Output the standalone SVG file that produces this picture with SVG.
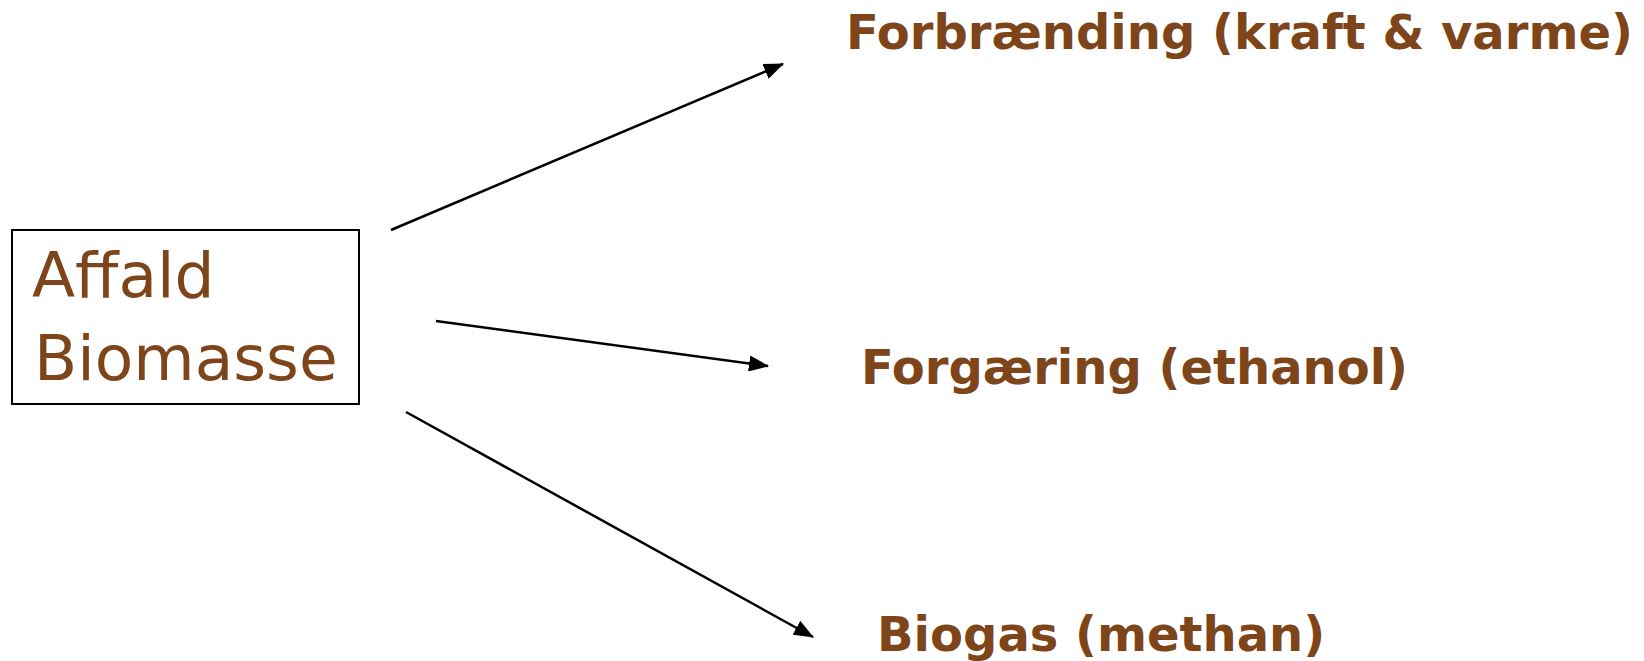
<svg xmlns="http://www.w3.org/2000/svg" width="1644" height="661" viewBox="0 0 1644 661">
<style>
.lbl{font-family:"DejaVu Sans",Verdana,sans-serif;font-weight:bold;font-size:48px;fill:#7D4519}
.src{font-family:"DejaVu Sans",Verdana,sans-serif;font-size:63px;fill:#7D4519}
.con{stroke:#000;stroke-width:2.5;fill:none;marker-end:url(#ah)}
</style>
<defs>
<marker id="ah" markerUnits="userSpaceOnUse" markerWidth="20" markerHeight="16" refX="19" refY="8" orient="auto">
<path d="M0,0 L20,8 L0,16 Z" fill="#000"/>
</marker>
</defs>
<rect width="1644" height="661" fill="#fff"/>
<g id="source">
<rect x="12" y="230" width="347" height="174" fill="#fff" stroke="#000" stroke-width="2"/>
<text class="src" x="32" y="297">Affald</text>
<text class="src" x="34" y="380">Biomasse</text>
</g>
<g id="forbraending">
<text class="lbl" x="846" y="49">Forbrænding (kraft &amp; varme)</text>
</g>
<g id="forgaering">
<text class="lbl" x="861" y="384">Forgæring (ethanol)</text>
</g>
<g id="biogas">
<text class="lbl" x="877" y="651">Biogas (methan)</text>
</g>
<g id="connectors">
<line class="con" x1="391" y1="230" x2="783" y2="64"/>
<line class="con" x1="436" y1="321" x2="768" y2="366"/>
<line class="con" x1="406" y1="412" x2="813" y2="637"/>
</g>
</svg>
